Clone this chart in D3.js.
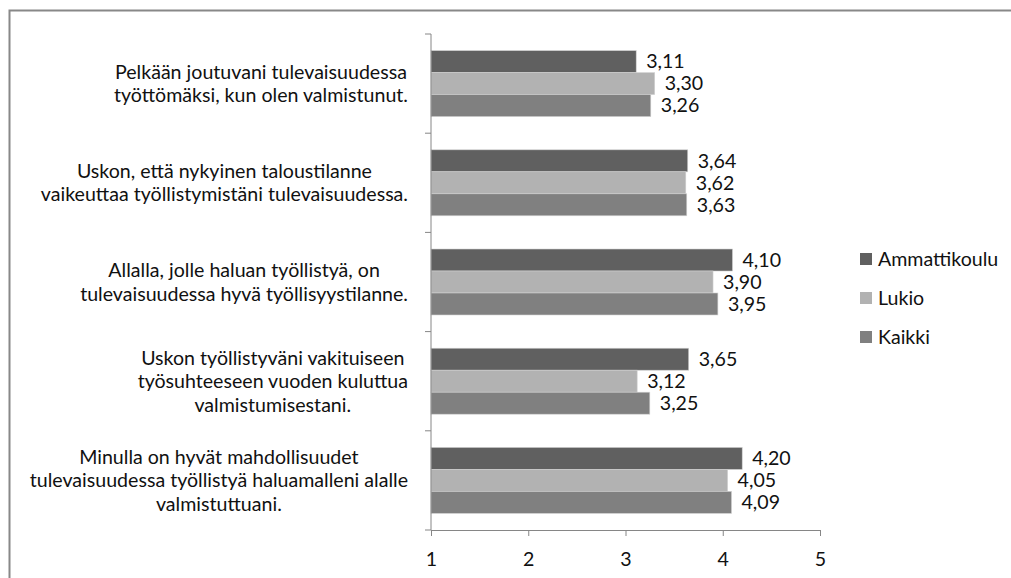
<!DOCTYPE html>
<html><head><meta charset="utf-8">
<script src="https://cdn.jsdelivr.net/npm/d3@7/dist/d3.min.js"></script>
<style>body{margin:0;background:#fff}svg{display:block}text{font-family:Lato,"Open Sans",sans-serif;fill:#111}</style>
</head><body>
<script>
const categories = [
  ["Pelkään joutuvani tulevaisuudessa","työttömäksi, kun olen valmistunut."],
  ["Uskon, että nykyinen taloustilanne","vaikeuttaa työllistymistäni tulevaisuudessa."],
  ["Allalla, jolle haluan työllistyä, on","tulevaisuudessa hyvä työllisyystilanne."],
  ["Uskon työllistyväni vakituiseen","työsuhteeseen vuoden kuluttua","valmistumisestani."],
  ["Minulla on hyvät mahdollisuudet","tulevaisuudessa työllistyä haluamalleni alalle","valmistuttuani."]
];
const seriesNames = ["Ammattikoulu","Lukio","Kaikki"];
const ammattikoulu = [3.11,3.64,4.10,3.65,4.20];
const lukio = [3.30,3.62,3.90,3.12,4.05];
const kaikki = [3.26,3.63,3.95,3.25,4.09];
const xTicks = [1,2,3,4,5];
const colors = ["#606060","#b2b2b2","#808080"];

const W=1011,H=578,FS=19.6;
const svg=d3.select("body").append("svg").attr("width",W).attr("height",H);
svg.append("rect").attr("x",9.5).attr("y",10.5).attr("width",1100).attr("height",700).attr("fill","none").attr("stroke","#888").attr("stroke-width",2);

const x=d3.scaleLinear().domain([1,5]).range([431,820]);
const y=d3.scaleBand().domain(d3.range(categories.length)).range([34,530]).paddingInner(0.335).paddingOuter(0.1675);
const ys=d3.scaleBand().domain(d3.range(3)).range([0,y.bandwidth()]);
const series=[ammattikoulu,lukio,kaikki];
const fmt=v=>v.toFixed(2).replace(".",",");

// bars
series.forEach((vals,si)=>{
  const g=svg.append("g");
  g.selectAll("rect").data(vals).join("rect")
    .attr("x",x(1)).attr("y",(d,i)=>y(i)+ys(si))
    .attr("width",d=>x(d)-x(1)).attr("height",ys.bandwidth())
    .attr("fill",colors[si]).attr("stroke","#d0d0d0").attr("stroke-width",0.6);
  g.selectAll("text").data(vals).join("text")
    .attr("x",d=>x(d)+10).attr("y",(d,i)=>y(i)+ys(si)+ys.bandwidth()/2)
    .attr("dy","0.35em").attr("font-size",FS).text(fmt);
});

// axes
const ax=svg.append("g").attr("transform","translate(0,530)")
  .call(d3.axisBottom(x).tickValues(xTicks).tickSize(6).tickSizeOuter(0).tickFormat(d=>d));
ax.select(".domain").attr("stroke","#868686");
ax.selectAll(".tick line").attr("stroke","#868686");
ax.selectAll(".tick text").attr("font-size",FS).attr("font-family","Lato").attr("y",35.5).attr("dy",0).attr("fill","#111");

const catBounds=d3.range(categories.length+1).map(i=>34+i*(496/categories.length));
svg.append("line").attr("x1",431).attr("x2",431).attr("y1",34).attr("y2",530).attr("stroke","#868686");
svg.selectAll(".ct").data(catBounds).join("line").attr("x1",425).attr("x2",431)
  .attr("y1",d=>d).attr("y2",d=>d).attr("stroke","#868686");

// category labels: block right-aligned at 408, lines centred within block
categories.forEach((lines,i)=>{
  const cy=y(i)+y.bandwidth()/2, lh=23.5;
  const t=svg.append("text").attr("text-anchor","middle").attr("font-size",FS);
  const spans=lines.map((l,j)=>t.append("tspan").attr("y",cy+(j-(lines.length-1)/2)*lh).attr("dy","0.35em").text(l));
  const maxW=d3.max(spans,s=>s.node().getComputedTextLength());
  spans.forEach(s=>s.attr("x",408-maxW/2));
});

// legend
seriesNames.forEach((n,i)=>{
  const ly=259+i*39;
  svg.append("rect").attr("x",860).attr("y",ly-6).attr("width",12).attr("height",12).attr("fill",colors[i]);
  svg.append("text").attr("x",878).attr("y",ly).attr("dy","0.35em").attr("font-size",FS).text(n);
});
</script>
</body></html>
